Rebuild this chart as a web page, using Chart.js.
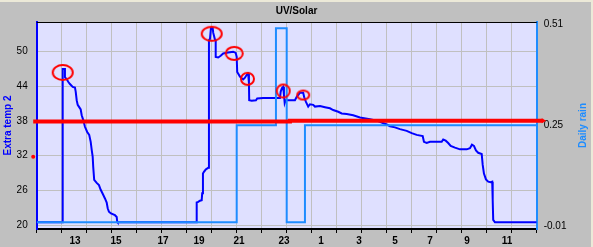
<!DOCTYPE html>
<html>
<head>
<meta charset="utf-8">
<title>UV/Solar</title>
<script src="https://cdn.jsdelivr.net/npm/chart.js@4.4.0/dist/chart.umd.min.js"></script>
<style>
    html, body { margin: 0; padding: 0; background: #c0c0c0; }
    #grafico { display: block; }
</style>
</head>
<body>
<canvas id="grafico" width="593" height="247"></canvas>
<script>
// eixo x = posicao do registro (10 registros por divisao da grade)
const horasTexto = ["13", "15", "17", "19", "21", "23", "1", "3", "5", "7", "9", "11"];
const horasPos = [15.3, 31.7, 50.5, 64.9, 80.9, 98.9, 113.7, 128.9, 143.3, 157.3, 172.1, 188.1];

const tempTicks = [20, 26, 32, 38, 44, 50];
const chuvaTicks = [-0.01, 0.25, 0.51];

// Extra temp 2
const tempX = [0, 10.4, 10.4, 11.3, 11.3, 12.2, 12.6, 13.3, 14.4, 15.3, 15.6, 16.0, 16.4, 17.0, 17.6, 18.0, 18.6,
    19.3, 20.2, 21.0, 21.6, 22.0, 22.4, 22.6, 23.0, 24.0, 24.9, 25.6, 26.4, 27.3, 28.0, 28.4, 28.9, 29.7, 31.3,
    32.0, 32.2, 32.4, 64.0, 64.0, 64.6, 65.3, 66.0, 66.2, 66.5, 66.9, 67.6, 68.6, 68.9, 69.3, 69.7, 70.4, 70.6,
    71.3, 71.6, 71.6, 72.6, 73.6, 74.6, 76.0, 77.3, 78.6, 79.6, 80.0, 80.2, 81.3, 82.0, 82.6, 83.3, 84.0, 84.6,
    84.9, 85.0, 86.0, 87.7, 88.2, 90.6, 97.3, 97.6, 98.1, 98.6, 98.9, 99.2, 99.6, 103.3, 104.0, 104.6, 105.3,
    106.6, 107.0, 107.7, 108.6, 109.3, 110.6, 111.3, 113.3, 115.3, 117.3, 118.6, 120.6, 122.0, 124.0, 126.6,
    129.3, 133.3, 136.5, 140.0, 141.3, 143.3, 145.3, 148.0, 150.0, 152.0, 154.4, 154.9, 156.0, 157.3, 162.0,
    162.6, 163.6, 164.6, 165.6, 167.3, 169.3, 172.0, 173.3, 174.1, 174.9, 175.7, 176.6, 178.0, 178.4, 178.9,
    179.7, 180.6, 181.6, 182.2, 182.4, 182.6, 183.3, 200];
const tempY = [20.47, 20.47, 47.0, 47.0, 45.6, 45.1, 44.8, 44.4, 43.9, 43.8, 43.1, 41.6, 40.8, 40.4, 40.0, 39.0, 38.2,
    37.0, 36.1, 35.6, 34.4, 33.0, 31.8, 30.1, 27.8, 27.3, 26.9, 26.1, 25.4, 24.6, 23.9, 22.9, 22.3, 22.0, 21.7,
    21.4, 20.6, 20.47, 20.47, 23.9, 24.0, 24.2, 24.3, 25.5, 28.9, 29.2, 29.6, 29.9, 52.0, 52.2, 54.1, 54.1, 53.3,
    52.1, 52.0, 49.1, 49.0, 49.3, 49.7, 49.8, 49.9, 50.0, 49.8, 49.1, 46.5, 45.7, 45.4, 45.2, 45.5, 46.0, 46.2,
    44.5, 41.6, 41.5, 41.6, 41.9, 42.0, 42.0, 43.1, 43.7, 43.9, 42.5, 41.1, 41.6, 41.6, 42.2, 42.5, 42.9,
    42.9, 42.1, 41.3, 40.5, 40.9, 40.8, 40.5, 40.6, 40.4, 40.2, 39.9, 39.6, 39.3, 39.2, 39.0,
    38.6, 38.3, 38.0, 37.4, 37.1, 36.9, 36.6, 36.3, 35.9, 35.6, 35.4, 34.4, 34.2, 34.4, 34.4,
    34.8, 34.6, 34.2, 33.7, 33.4, 33.1, 33.1, 33.3, 33.9, 33.7, 32.9, 32.5, 32.3, 30.4, 28.9,
    27.9, 27.5, 27.4, 27.5, 24.3, 20.9, 20.47, 20.47];

// Daily rain (degraus)
const chuvaX = [0, 80.0, 95.7, 100.0, 107.3, 200];
const chuvaY = [0, 0.25, 0.50, 0, 0.25, 0.25];

// linha vermelha
const vermelhoX = [-1.4, 101.3, 202.6];
const vermelhoY = [37.9, 38.05, 38.05];

// marcas vermelhas (elipses) e ponto no eixo
const marcaX = [10.4, 70.0, 79.0, 84.3, 98.6, 106.6];
const marcaY = [46.4, 53.1, 49.7, 45.3, 43.2, 42.5];
const pontoX = [-1.4];
const pontoY = [31.8];

// tamanho de cada elipse em px (largura, altura)
const tamanhoMarca = [[20, 15], [20, 14], [17, 13], [13, 12], [13, 13], [12, 9]];

const fonte = "'Liberation Sans', Arial, sans-serif";
const azul = "#0000ff";
const azulClaro = "#1e8cff";

function pares(xs, ys) {
    return xs.map((x, i) => ({ x: x, y: ys[i] }));
}

function elipse(w, h) {
    const c = document.createElement("canvas");
    c.width = w + 4;
    c.height = h + 4;
    const g = c.getContext("2d");
    g.strokeStyle = "#ff0000";
    g.lineWidth = 2;
    g.beginPath();
    g.ellipse(c.width / 2, c.height / 2, w / 2, h / 2, 0, 0, Math.PI * 2);
    g.stroke();
    return c;
}

const elipses = tamanhoMarca.map(t => elipse(t[0], t[1]));

/* fundo, moldura e titulo do eixo direito */
const moldura = {
    id: "moldura",
    beforeDraw(chart) {
        const { ctx, chartArea: a, width, height } = chart;
        ctx.save();
        ctx.fillStyle = "#c0c0c0";
        ctx.fillRect(0, 0, width, height);
        ctx.fillStyle = "#ece9d8";
        ctx.fillRect(0, 0, width, 2);
        ctx.fillRect(width - 2, 0, 2, height);
        ctx.fillStyle = "#dfe0ff";
        ctx.fillRect(a.left, a.top, a.right - a.left, a.bottom - a.top);
        ctx.restore();
    },
    beforeDatasetsDraw(chart) {
        const { ctx, chartArea: a } = chart;
        ctx.save();
        ctx.strokeStyle = "#000";
        ctx.lineWidth = 1;
        ctx.beginPath();
        ctx.moveTo(a.left, Math.round(a.top) + 0.5);
        ctx.lineTo(a.right, Math.round(a.top) + 0.5);
        ctx.stroke();
        ctx.restore();
    },
    afterDraw(chart) {
        const { ctx, chartArea: a } = chart;
        ctx.save();
        ctx.translate(583, (a.top + a.bottom) / 2);
        ctx.rotate(-Math.PI / 2);
        ctx.fillStyle = azulClaro;
        ctx.font = "bold 10px " + fonte;
        ctx.textAlign = "center";
        ctx.textBaseline = "middle";
        ctx.fillText("Daily rain", 0, 0);
        ctx.restore();
    }
};

document.addEventListener("DOMContentLoaded", function () {

    Chart.defaults.font.family = fonte;
    Chart.defaults.font.size = 10;
    Chart.defaults.color = "#000";

    const ctx = document.getElementById("grafico").getContext("2d");

    new Chart(ctx, {
        type: "line",
        data: {
            datasets: [
                {
                    label: "marcas",
                    data: pares(marcaX, marcaY),
                    showLine: false,
                    pointStyle: c => elipses[c.dataIndex],
                    pointRadius: 8,
                    clip: false
                },
                {
                    label: "ponto",
                    data: pares(pontoX, pontoY),
                    showLine: false,
                    pointRadius: 2,
                    pointBorderWidth: 0,
                    pointBackgroundColor: "#ff0000",
                    clip: false
                },
                {
                    label: "vermelho",
                    data: pares(vermelhoX, vermelhoY),
                    borderColor: "#ff0000",
                    backgroundColor: "#ff0000",
                    borderWidth: 4,
                    stepped: true,
                    pointStyle: "triangle",
                    rotation: 90,
                    pointRadius: [0, 0, 3],
                    pointHoverRadius: 10,
                    pointBorderWidth: 0,
                    clip: false
                },
                {
                    label: "Daily rain",
                    data: pares(chuvaX, chuvaY),
                    yAxisID: "y1",
                    borderColor: azulClaro,
                    borderWidth: 2,
                    stepped: true,
                    pointRadius: 0
                },
                {
                    label: "Extra temp 2",
                    data: pares(tempX, tempY),
                    borderColor: azul,
                    borderWidth: 2,
                    tension: 0,
                    pointRadius: 0
                }
            ]
        },
        options: {
            responsive: false,
            animation: false,
            devicePixelRatio: 1,
            events: [],
            layout: { padding: 0 },
            plugins: {
                legend: { display: false },
                tooltip: { enabled: false },
                title: {
                    display: true,
                    text: "UV/Solar",
                    font: { size: 10, weight: "bold" },
                    color: "#000",
                    padding: { top: 5, bottom: 5 }
                }
            },
            scales: {
                x: {
                    type: "linear",
                    position: "bottom",
                    weight: 1,
                    min: 0,
                    max: 200,
                    ticks: { display: false, stepSize: 10 },
                    grid: { color: "#c0c0c0", tickColor: "#000", tickLength: 4 },
                    border: { color: "#000", width: 2 },
                    afterFit: s => { s.height = 4; }
                },
                horas: {
                    type: "linear",
                    position: "bottom",
                    weight: 2,
                    min: 0,
                    max: 200,
                    afterBuildTicks: s => { s.ticks = horasPos.map(v => ({ value: v })); },
                    ticks: {
                        autoSkip: false,
                        maxRotation: 0,
                        padding: 2,
                        font: { size: 10, weight: "bold" },
                        callback: (v, i) => horasTexto[i]
                    },
                    grid: { display: false, drawTicks: false },
                    border: { display: false },
                    afterFit: s => { s.height = 14; }
                },
                y: {
                    position: "left",
                    min: 19.31,
                    max: 55.14,
                    afterBuildTicks: s => { s.ticks = tempTicks.map(v => ({ value: v })); },
                    ticks: { padding: 9, callback: v => String(v) },
                    grid: { color: "#c0c0c0", drawTicks: false },
                    border: { color: azul, width: 2 },
                    title: {
                        display: true,
                        text: "Extra temp 2",
                        color: azul,
                        font: { size: 10, weight: "bold" },
                        padding: { top: 2, bottom: 0 }
                    },
                    afterFit: s => { s.width = 36.7; }
                },
                y1: {
                    position: "right",
                    min: -0.0173,
                    max: 0.5162,
                    afterBuildTicks: s => { s.ticks = chuvaTicks.map(v => ({ value: v })); },
                    ticks: { padding: 7, callback: v => v.toFixed(2) },
                    grid: { display: false, drawTicks: false },
                    border: { color: azulClaro, width: 2 },
                    afterFit: s => { s.width = 56.3; }
                }
            }
        },
        plugins: [moldura]
    });

});
</script>
</body>
</html>
